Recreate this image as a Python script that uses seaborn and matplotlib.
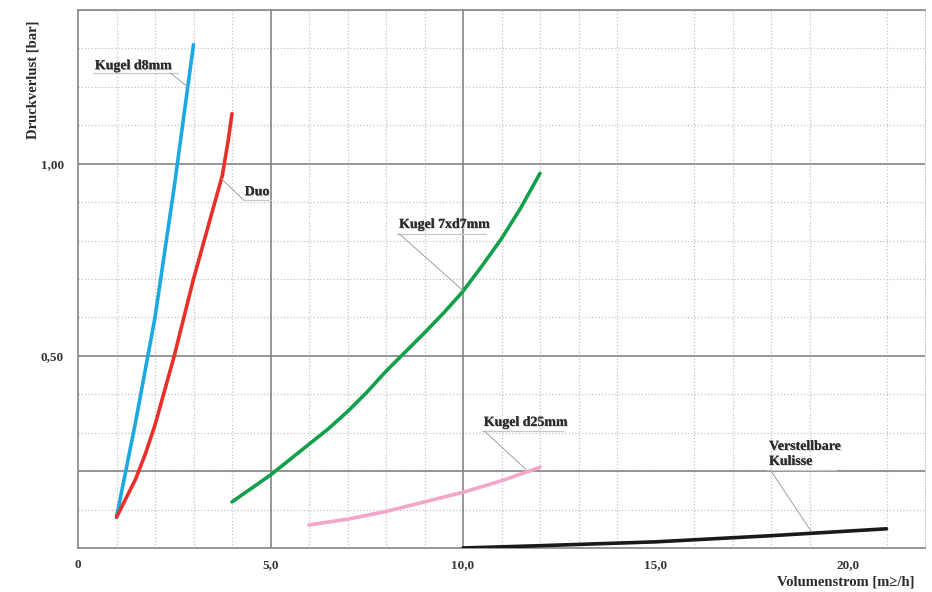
import numpy as np
import pandas as pd
import matplotlib
matplotlib.use("Agg")
import matplotlib.pyplot as plt
import matplotlib.patheffects as pe
import seaborn as sns

kugel_d8_x = [1.0, 1.5, 2.0, 2.5, 3.0]
kugel_d8_y = [0.08, 0.33, 0.60, 0.94, 1.31]

duo_x = [1.0, 1.25, 1.5, 1.75, 2.0, 2.25, 2.5, 2.75, 3.0, 3.25, 3.5, 3.75, 3.9, 4.0]
duo_y = [0.08, 0.13, 0.18, 0.245, 0.32, 0.41, 0.50, 0.60, 0.70, 0.79, 0.88, 0.97, 1.06, 1.13]

kugel_7xd7_x = [4, 4.5, 5, 5.5, 6, 6.5, 7, 7.5, 8, 8.5, 9, 9.5, 10, 10.5, 11, 11.5, 12]
kugel_7xd7_y = [0.12, 0.155, 0.19, 0.23, 0.27, 0.31, 0.355, 0.405, 0.46, 0.51, 0.56, 0.612,
                0.668, 0.735, 0.805, 0.885, 0.975]

kugel_d25_x = [6, 7, 8, 9, 10, 11, 12]
kugel_d25_y = [0.06, 0.075, 0.095, 0.12, 0.145, 0.175, 0.21]

kulisse_x = [10, 12, 15, 18, 21]
kulisse_y = [0.0, 0.006, 0.016, 0.032, 0.05]

x_ticks = [0, 5, 10, 15, 20]
x_tick_labels = ["0", "5,0", "10,0", "15,0", "20,0"]
y_ticks = [0.5, 1.0]
y_tick_labels = ["0,50", "1,00"]

series = [
    ("Kugel d8mm", kugel_d8_x, kugel_d8_y, "#1BA9E1"),
    ("Duo", duo_x, duo_y, "#E8302A"),
    ("Kugel 7xd7mm", kugel_7xd7_x, kugel_7xd7_y, "#13A04A"),
    ("Kugel d25mm", kugel_d25_x, kugel_d25_y, "#F2A6C8"),
    ("Verstellbare Kulisse", kulisse_x, kulisse_y, "#1a1a1a"),
]

sns.set_style("white")
plt.rcParams['font.family'] = ['Liberation Serif', 'DejaVu Serif']
plt.rcParams['font.weight'] = 'bold'

fig, ax = plt.subplots(figsize=(9.32, 5.92), dpi=100)
fig.subplots_adjust(left=78/932, right=925/932, bottom=44/592, top=582/592)

ax.set_xlim(0, 22)
ax.set_ylim(0, 1.4)

# grid: dotted minor, solid major
ax.set_xticks(np.arange(0, 23, 1), minor=True)
ax.set_yticks(np.arange(0, 1.41, 0.1), minor=True)
ax.grid(which='minor', color='#c4c4c4', linestyle=':', linewidth=0.9)
for xv in [5, 10]:
    ax.axvline(xv, color='#858585', lw=1.2, zorder=1)
for yv in [0.2, 0.5, 1.0]:
    ax.axhline(yv, color='#858585', lw=1.2, zorder=1)

for name, xs, ys, col in series:
    sns.lineplot(x=xs, y=ys, color=col, linewidth=2.6, ax=ax, zorder=3)

ax.set_xticks(x_ticks)
ax.set_xticklabels(x_tick_labels)
ax.set_yticks(y_ticks)
ax.set_yticklabels(y_tick_labels)
ax.tick_params(which='both', length=0, labelsize=9.5, colors='#333333')
ax.tick_params(axis='x', pad=8)
ax.tick_params(axis='y', pad=10)

for s in ['left', 'bottom', 'top']:
    ax.spines[s].set_color('#858585')
    ax.spines[s].set_linewidth(1.2)
ax.spines['right'].set_color('#cccccc')
ax.spines['right'].set_linestyle(':')

shadow = [pe.withSimplePatchShadow(offset=(0.8, -0.8), shadow_rgbFace='#bbbbbb', alpha=0.6), pe.Normal()]
txt_kw = dict(fontsize=10, fontweight='bold', color='#2a2a2a', path_effects=shadow, zorder=5)

# annotations: text, text position, underline end x, leader start, target point
notes = [
    ("Kugel d8mm", (0.44, 1.255), 2.6, (2.4, 1.236), (2.85, 1.20)),
    ("Duo", (4.33, 0.927), 5.0, (4.3, 0.906), (3.73, 0.96)),
    ("Kugel 7xd7mm", (8.34, 0.842), 10.6, (8.34, 0.818), (10.0, 0.67)),
    ("Kugel d25mm", (10.54, 0.327), 12.6, (10.56, 0.304), (11.63, 0.205)),
    ("Verstellbare\nKulisse", (17.95, 0.245), 19.7, (17.98, 0.203), (19.04, 0.044)),
]
for label, tpos, ul_end, lstart, target in notes:
    ax.text(tpos[0], tpos[1], label, ha='left', va='center', linespacing=1.2, **txt_kw)
    ax.plot([tpos[0] - 0.05, ul_end], [lstart[1], lstart[1]], color='#c8c8c8', lw=0.9, zorder=4)
    ax.plot([lstart[0], target[0]], [lstart[1], target[1]], color='#a0a0a0', lw=0.7, zorder=4)

ax.text(-0.053, 0.87, "Druckverlust [bar]", transform=ax.transAxes, rotation=90,
        ha='center', va='center', fontsize=10.5, fontweight='bold', color='#2a2a2a')
ax.text(0.988, -0.063, "Volumenstrom [m\u2265/h]", transform=ax.transAxes,
        ha='right', va='center', fontsize=10.5, fontweight='bold', color='#2a2a2a')

fig.savefig("out.png", dpi=100)
